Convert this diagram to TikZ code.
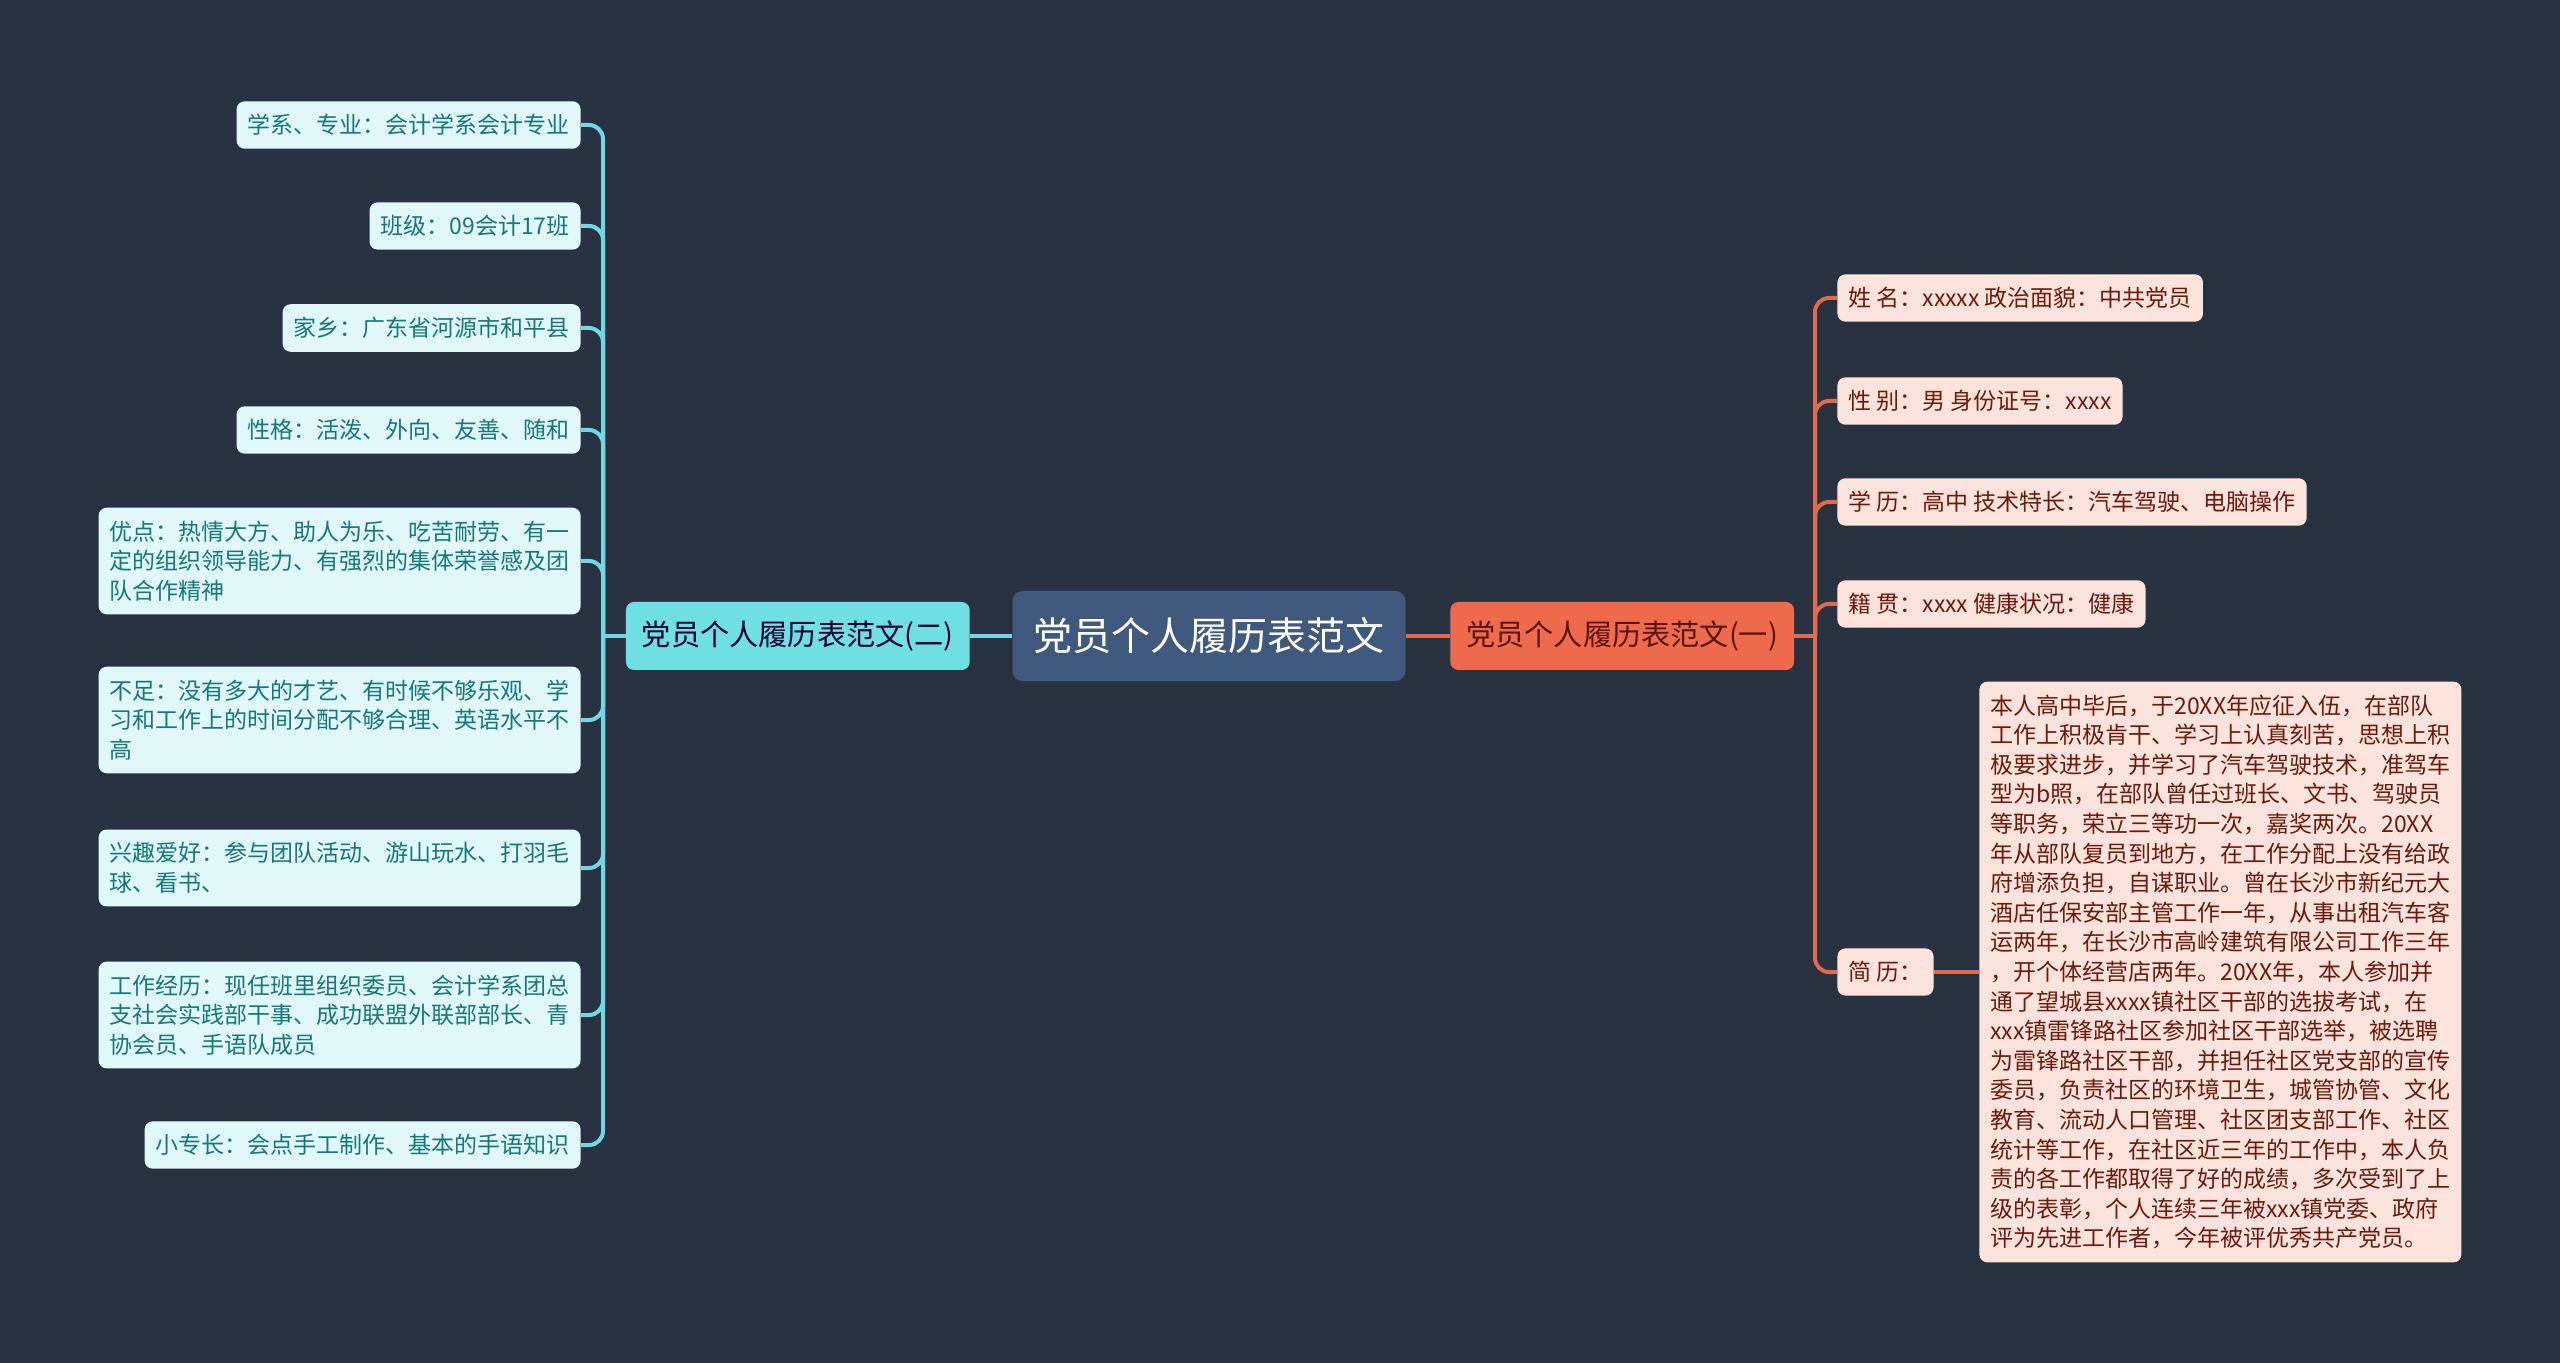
\documentclass[tikz,border=0pt]{standalone}
\usepackage{fontspec}
\usepackage{tikz}
\usetikzlibrary{positioning}
\newfontfamily\cjk{Noto Sans CJK SC}
\definecolor{bgc}{HTML}{293241}
\definecolor{rootc}{HTML}{3F5A7E}
\definecolor{lmain}{HTML}{6EE0E4}
\definecolor{rmain}{HTML}{EE6A4C}
\definecolor{lfill}{HTML}{E0F8F8}
\definecolor{ltext}{HTML}{177878}
\definecolor{rfill}{HTML}{FCE4DC}
\definecolor{rtext}{HTML}{6E1A0B}
\definecolor{lwire}{HTML}{6FD8E5}
\definecolor{rwire}{HTML}{E5694D}

\begin{document}
\begin{tikzpicture}[x=0.5pt,y=-0.5pt,
    leaf/.style={rounded corners=4pt, inner xsep=5.5pt, inner ysep=6.5pt,
        font=\cjk\fontsize{11.5}{14.8}\selectfont},
    lleaf/.style={leaf, fill=lfill, text=ltext, anchor=east, align=left},
    rleaf/.style={leaf, fill=rfill, text=rtext, anchor=west, align=left},
    mainbox/.style={rounded corners=4pt, inner xsep=8pt, minimum height=34pt,
        font=\cjk\fontsize{14.6}{17}\selectfont},
    lline/.style={draw=lwire, line width=2pt, rounded corners=7pt},
    rline/.style={draw=rwire, line width=2pt, rounded corners=7pt}]
        \fill[bgc] (0,0) rectangle (2560,1363);

        \node[rounded corners=5pt, fill=rootc, text=white, inner xsep=10.5pt, minimum height=45pt,
            font=\cjk\fontsize{19.5}{22}\selectfont] (root) at (1209,636) {党员个人履历表范文};
        \node[mainbox, fill=lmain, text=black!80!blue, left=21pt of root] (l1) {党员个人履历表范文(二)};
        \node[mainbox, fill=rmain, text=rtext!80!black, right=22pt of root] (r1) {党员个人履历表范文(一)};

        \coordinate (jl) at (603,636);
        \coordinate (jr) at (1815,636);

        % left branch
        \node[lleaf] (a1) at (581,125) {学系、专业：会计学系会计专业};
        \node[lleaf] (a2) at (581,226) {班级：09会计17班};
        \node[lleaf] (a3) at (581,328) {家乡：广东省河源市和平县};
        \node[lleaf] (a4) at (581,430) {性格：活泼、外向、友善、随和};
        \node[lleaf, text width=230pt] (a5) at (581,561) {优点：热情大方、助人为乐、吃苦耐劳、有一\\定的组织领导能力、有强烈的集体荣誉感及团\\队合作精神};
        \node[lleaf, text width=230pt] (a6) at (581,720) {不足：没有多大的才艺、有时候不够乐观、学\\习和工作上的时间分配不够合理、英语水平不\\高};
        \node[lleaf, text width=230pt] (a7) at (581,868) {兴趣爱好：参与团队活动、游山玩水、打羽毛\\球、看书、};
        \node[lleaf, text width=230pt] (a8) at (581,1015) {工作经历：现任班里组织委员、会计学系团总\\支社会实践部干事、成功联盟外联部部长、青\\协会员、手语队成员};
        \node[lleaf] (a9) at (581,1145) {小专长：会点手工制作、基本的手语知识};

        % right branch
        \node[rleaf] (b1) at (1837,298) {姓 名：xxxxx 政治面貌：中共党员};
        \node[rleaf] (b2) at (1837,401) {性 别：男 身份证号：xxxx};
        \node[rleaf] (b3) at (1837,502) {学 历：高中 技术特长：汽车驾驶、电脑操作};
        \node[rleaf] (b4) at (1837,604) {籍 贯：xxxx 健康状况：健康};
        \node[rleaf] (b5) at (1837,972) {简 历：};
        \node[rleaf, text width=230pt] (bio) at (1979,972) {本人高中毕后，于20XX年应征入伍，在部队\\工作上积极肯干、学习上认真刻苦，思想上积\\极要求进步，并学习了汽车驾驶技术，准驾车\\型为b照，在部队曾任过班长、文书、驾驶员\\等职务，荣立三等功一次，嘉奖两次。20XX\\年从部队复员到地方，在工作分配上没有给政\\府增添负担，自谋职业。曾在长沙市新纪元大\\酒店任保安部主管工作一年，从事出租汽车客\\运两年，在长沙市高岭建筑有限公司工作三年\\，开个体经营店两年。20XX年，本人参加并\\通了望城县xxxx镇社区干部的选拔考试，在\\xxx镇雷锋路社区参加社区干部选举，被选聘\\为雷锋路社区干部，并担任社区党支部的宣传\\委员，负责社区的环境卫生，城管协管、文化\\教育、流动人口管理、社区团支部工作、社区\\统计等工作，在社区近三年的工作中，本人负\\责的各工作都取得了好的成绩，多次受到了上\\级的表彰，个人连续三年被xxx镇党委、政府\\评为先进工作者，今年被评优秀共产党员。};

        % connectors
        \draw[lline] (root.west) -- (l1.east);
        \draw[rline] (root.east) -- (r1.west);
        \draw[lline] (l1.west) -- (jl);
        \draw[rline] (r1.east) -- (jr);
        \foreach \n in {a1,a2,a3,a4,a5,a6,a7,a8,a9}
            \draw[lline] (\n.east) -| (jl);
        \foreach \n in {b1,b2,b3,b4,b5}
            \draw[rline] (\n.west) -| (jr);
        \draw[rline] (b5.east) -- (bio.west);
    \end{tikzpicture}
\end{document}
